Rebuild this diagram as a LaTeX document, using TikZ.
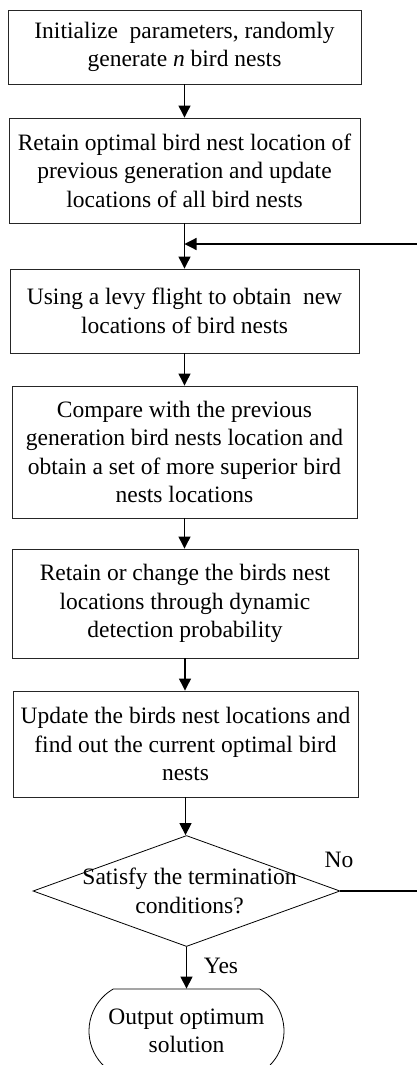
\documentclass[tikz,border=0pt]{standalone}
\usepackage{fontspec}
\setmainfont{Liberation Serif}
\usetikzlibrary{arrows.meta,shapes.geometric,shapes.misc}
\begin{document}
\begin{tikzpicture}[x=1pt,y=-1pt,
  every node/.style={font=\fontsize{23.5}{28.5}\selectfont},
  procbox/.style={draw=black!85,line width=0.9pt,rectangle,align=center,inner sep=0pt},
  decision/.style={draw=black,line width=0.8pt,diamond,inner sep=0pt},
  terminal/.style={draw=black,line width=0.8pt,rounded rectangle,rounded rectangle arc length=120,align=center,inner sep=0pt},
  flow/.style={line width=1.2pt,-{Triangle[length=12pt,width=12pt]}}]
\useasboundingbox[fill=white] (0,0) rectangle (416,1065);

\node[procbox,minimum width=353,minimum height=74] (init) at (184.5,47)
  {Initialize\ \ parameters, randomly\\generate \textit{n} bird nests};
\node[procbox,minimum width=351,minimum height=105] (retain) at (184.5,170.5)
  {Retain optimal bird nest location of\\previous generation and update\\locations of all bird nests};
\node[procbox,minimum width=349,minimum height=84] (levy) at (184.5,311)
  {Using a levy flight to obtain\ \ new\\locations of bird nests};
\node[procbox,minimum width=345,minimum height=132] (compare) at (184.5,452)
  {Compare with the previous\\generation bird nests location and\\obtain a set of more superior bird\\nests locations};
\node[procbox,minimum width=346,minimum height=109] (detect) at (185,603.5)
  {Retain or change the birds nest\\locations through dynamic\\detection probability};
\node[procbox,minimum width=345,minimum height=106] (update) at (185.5,744)
  {Update the birds nest locations and\\find out the current optimal bird\\nests};
\node[decision,minimum width=307,minimum height=111] (check) at (186.5,891) {};
\node[align=center,inner sep=0pt] (checktext) at (189.5,891)
  {Satisfy the termination\\conditions?};
\node[terminal,minimum width=195,minimum height=84] (out) at (186.5,1031)
  {Output optimum\\solution};

% junction where the loop re-enters the main flow
\coordinate (join) at (184.5,244);

\draw[flow] (init.south) -- (init.south |- retain.north);
\draw[flow] (retain.south) -- (retain.south |- levy.north);
\draw[flow] (levy.south) -- (levy.south |- compare.north);
\draw[flow] (compare.south) -- (compare.south |- detect.north);
\draw[flow] (detect.south) -- (detect.south |- update.north);
\draw[flow] (update.south) -- (update.south |- check.north);
\draw[flow] (check.south) -- (out.north);
\node[inner sep=0pt] (yes) at (221,966) {Yes};

% loop back: the return path runs along the right margin
\draw[flow] (check.east) -- (430,891) |- (join);
\node[inner sep=0pt] (no) at (339,860) {No};
\end{tikzpicture}
\end{document}
